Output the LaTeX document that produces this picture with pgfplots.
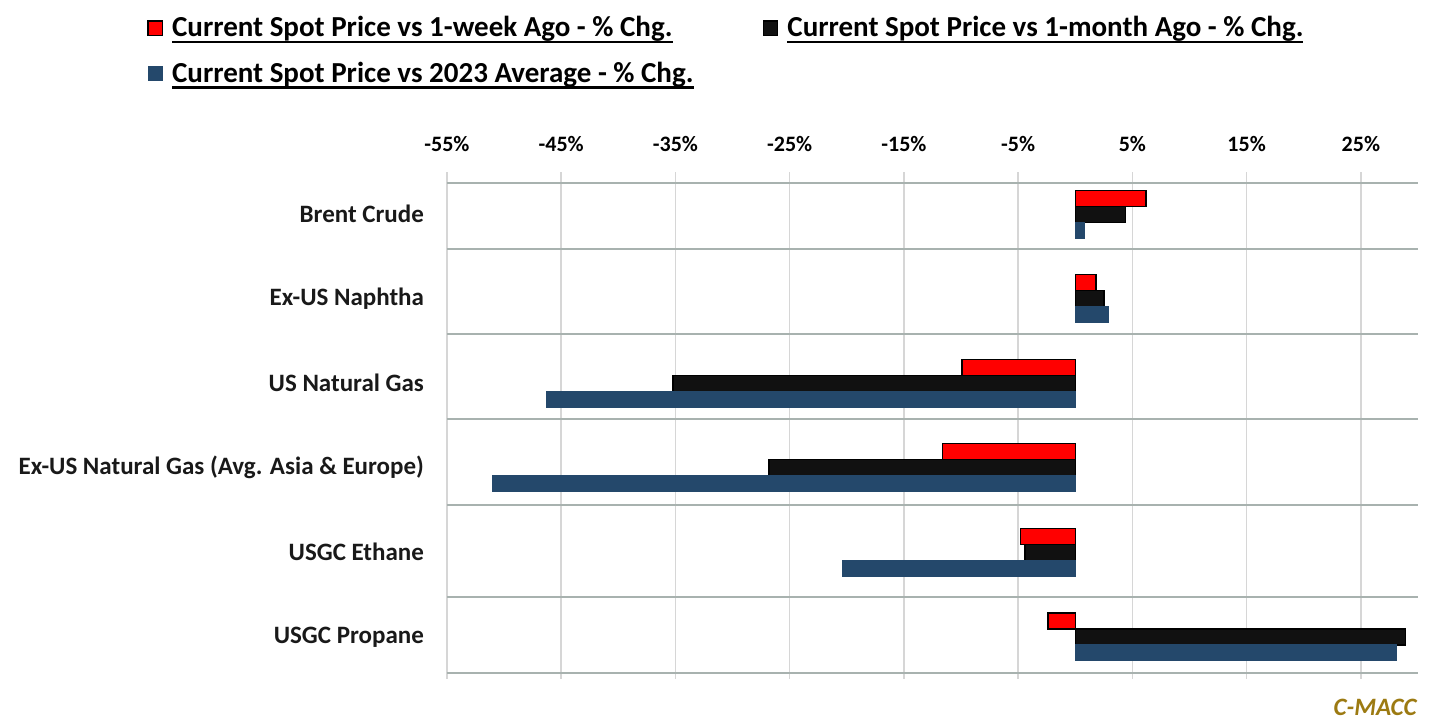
\documentclass[border=0pt]{standalone}
\usepackage{pgfplots}
\pgfplotsset{compat=1.18}
\usepackage{fontspec}
\setmainfont{Carlito}
\newcommand{\ul}[1]{\setbox0\hbox{#1}\rlap{\rule[-3.2pt]{\wd0}{1.1pt}}\box0}
\definecolor{cred}{HTML}{FF0000}
\definecolor{cblack}{HTML}{111111}
\definecolor{cblue}{HTML}{24486B}
\definecolor{hgrid}{HTML}{A8B2AF}
\definecolor{vgrid}{HTML}{D6D6D6}
\definecolor{gold}{HTML}{9C7A12}
\begin{document}
\begin{tikzpicture}
\begin{axis}[
  scale only axis,
  width=485.5pt, height=253.5pt,
  xmin=-55, xmax=30,
  ymin=-0.5, ymax=5.5,
  y dir=reverse,
  xbar, bar width=8pt,
  axis line style={draw=none},
  major tick length=0pt,
  xtick={-55,-45,-35,-25,-15,-5,5,15,25},
  xticklabels={-55\%,-45\%,-35\%,-25\%,-15\%,-5\%,5\%,15\%,25\%},
  xticklabel pos=upper,
  xticklabel style={font=\fontsize{11pt}{13pt}\selectfont\bfseries, yshift=6.5pt},
  xmajorgrids,
  major grid style={vgrid, line width=0.8pt},
  ytick={0,1,2,3,4,5},
  yticklabels={Brent Crude, Ex-US Naphtha, US Natural Gas, {Ex-US Natural Gas (Avg. Asia \& Europe)}, USGC Ethane, USGC Propane},
  yticklabel style={font=\fontsize{12.5pt}{14pt}\selectfont\bfseries, xshift=-8pt, text=black!90},
  extra y ticks={-0.370,0.411,1.417,2.423,3.441,4.530,5.429},
  extra y tick labels={},
  extra y tick style={grid=major, major grid style={hgrid, line width=1pt}},
  legend columns=2,
  legend style={at={(-0.309,1.3156)}, anchor=north west, draw=none, fill=none, inner sep=0pt,
    font=\fontsize{14.5pt}{16pt}\selectfont\bfseries,
    /tikz/every odd column/.append style={column sep=2.5pt},
    /tikz/every even column/.append style={column sep=32.5pt},
    row sep=7pt},
  legend cell align=left,
  clip=false,
]
\addplot[fill=cred, draw=black, line width=0.7pt, bar shift=8pt,
  legend image code/.code={\draw[fill=cred, draw=black, line width=0.7pt] (0pt,-3.6pt) rectangle (7.2pt,3.6pt);}]
  coordinates {(6.2,0) (1.8,1) (-9.9,2) (-11.6,3) (-4.8,4) (-2.4,5)};
\addlegendentry{\ul{Current Spot Price vs 1-week Ago - \% Chg.}}
\addplot[fill=cblack, draw=black, line width=0.7pt, bar shift=0pt,
  legend image code/.code={\draw[fill=cblack, draw=black, line width=0.7pt] (0pt,-3.6pt) rectangle (7.2pt,3.6pt);}]
  coordinates {(4.4,0) (2.5,1) (-35.2,2) (-26.8,3) (-4.4,4) (28.9,5)};
\addlegendentry{\ul{Current Spot Price vs 1-month Ago - \% Chg.}}
\addplot[fill=cblue, draw=cblue, line width=0.4pt, bar shift=-8pt,
  legend image code/.code={\fill[cblue] (0pt,-3.6pt) rectangle (7.2pt,3.6pt);}]
  coordinates {(0.8,0) (2.9,1) (-46.3,2) (-51.0,3) (-20.4,4) (28.1,5)};
\addlegendentry{\ul{Current Spot Price vs 2023 Average - \% Chg.}}
\node[anchor=east, text=gold, font=\fontsize{12.5pt}{14pt}\selectfont\bfseries\itshape, inner sep=0pt] at (rel axis cs:0.999,-0.055) {C-MACC};
\coordinate (bl) at (rel axis cs:-0.4603,-0.0947);
\coordinate (tr) at (rel axis cs:1.0319,1.3393);
\end{axis}
\pgfresetboundingbox
\useasboundingbox (bl) rectangle (tr);
\end{tikzpicture}
\end{document}
